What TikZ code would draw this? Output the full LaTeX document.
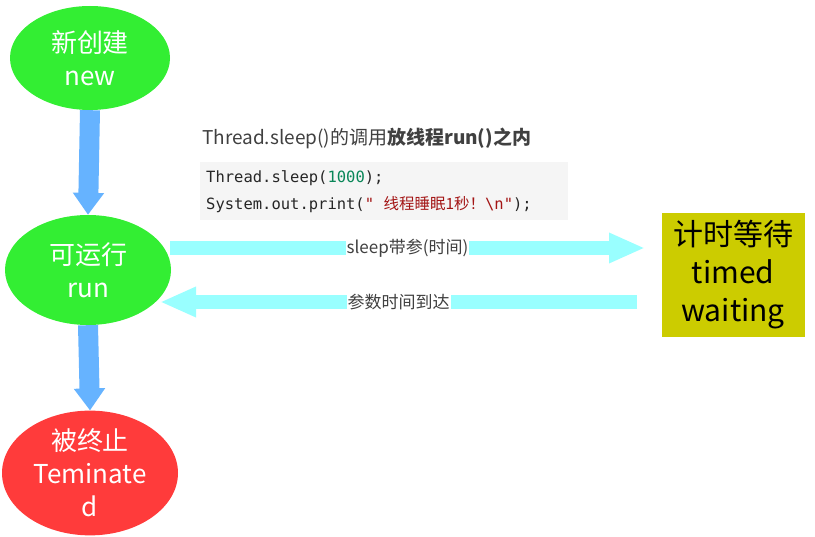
\documentclass[tikz,border=0pt]{standalone}
\usepackage{fontspec}
\setmainfont{Noto Sans CJK SC}
\newfontfamily\cjk{Noto Sans CJK SC}
\newfontfamily\codef{DejaVu Sans Mono}
\usetikzlibrary{shapes.geometric,arrows.meta}
\definecolor{gr}{HTML}{33EE33}
\definecolor{rd}{HTML}{FF3B3B}
\definecolor{bl}{HTML}{66B3FF}
\definecolor{cy}{HTML}{99FFFF}
\definecolor{ol}{HTML}{CCCC00}
\definecolor{strc}{HTML}{A31515}
\definecolor{numc}{HTML}{098658}
\begin{document}
\begin{tikzpicture}[x=1pt,y=-1pt,
  st/.style={ellipse,draw=none,text=white,font=\fontsize{26}{33}\selectfont,align=center,inner sep=0},
  varr/.style={bl,line width=20pt,-{Triangle[width=30pt,length=22pt]}},
  harr/.style={cy,line width=14pt,-{Triangle[width=28pt,length=36pt]}},
  lab/.style={fill=white,text=black!75,font=\fontsize{17}{20}\selectfont,inner sep=1pt}]
\useasboundingbox (0,0) rectangle (815,537);
\node[st,fill=gr,minimum width=160pt,minimum height=104pt] (new) at (90,58) {新创建\\new};
\node[st,fill=gr,minimum width=166pt,minimum height=110pt] (run) at (88,270) {可运行\\run};
\node[st,fill=rd,minimum width=176pt,minimum height=114pt] (term) at (90,473) {被终止\\Teminate\\d};
\node[fill=ol,minimum width=143pt,minimum height=124pt,align=center,inner sep=0,font=\fontsize{30}{38}\selectfont] (tw) at (733,275) {计时等待\\timed\\waiting};
\draw[varr] (new.south) -- (run.north);
\draw[varr] (run.south) -- (term.north);
\coordinate (a1) at (170,248); \coordinate (a2) at (645,248);
\coordinate (b1) at (637,302); \coordinate (b2) at (160,302);
\draw[harr] (a1) -- (a2) node[midway,lab] (l1) {sleep带参(时间)};
\draw[harr] (b1) -- (b2) node[midway,lab] (l2) {参数时间到达};
\node[anchor=west,text=black!75,font=\fontsize{19}{22}\selectfont,inner sep=0] (t) at (202,138) {Thread.sleep()的调用\textbf{放线程run()之内}};
\fill[black!4] (200,162) rectangle (568,220);
\node[anchor=west,inner sep=0,font=\codef\fontsize{15.5}{18}\selectfont,text=black!85] (c1) at (206,178) {Thread.sleep(\textcolor{numc}{1000});};
\node[anchor=west,inner sep=0,font=\codef\fontsize{15.5}{18}\selectfont,text=black!85] (c2) at (206,205) {System.out.print(\textcolor{strc}{" {\cjk 线程睡眠1秒！}\textbackslash n"});};
\end{tikzpicture}
\end{document}
